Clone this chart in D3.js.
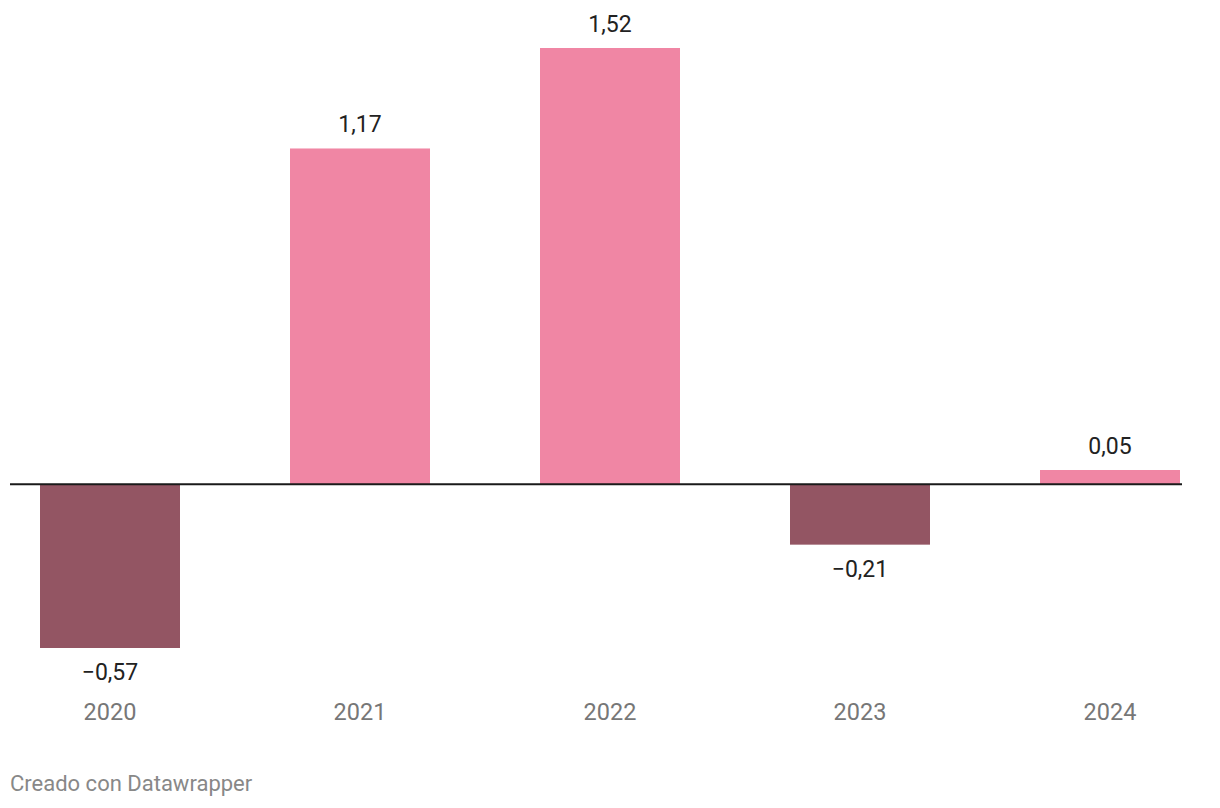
<!DOCTYPE html>
<html><head><meta charset="utf-8">
<script src="https://cdn.jsdelivr.net/npm/d3@7"></script>
<style>body{margin:0;background:#fff;} svg{display:block;font-family:Roboto,sans-serif;}</style>
</head><body>
<svg id="c" width="1220" height="808"></svg>
<script>
const years = ["2020","2021","2022","2023","2024"];
const values = [-0.57, 1.17, 1.52, -0.21, 0.05];
const footer = "Creado con Datawrapper";
const posColor = "#f086a4", negColor = "#935563";

const svg = d3.select("#c");
const x = d3.scaleBand().domain(years).range([40, 1180]).paddingInner(0.44).paddingOuter(0);
const y = d3.scaleLinear().domain([-0.57, 1.52]).range([648, 48]);
const fmt = v => (v < 0 ? "\u2212" : "") + Math.abs(v).toFixed(2).replace(".", ",");

svg.selectAll("rect.bar").data(years).join("rect")
  .attr("class","bar")
  .attr("x", d => x(d))
  .attr("width", x.bandwidth())
  .attr("y", (d,i) => Math.min(y(values[i]), y(0)))
  .attr("height", (d,i) => Math.abs(y(values[i]) - y(0)))
  .attr("fill", (d,i) => values[i] < 0 ? negColor : posColor);

svg.append("line").attr("x1",10).attr("x2",1182).attr("y1",y(0)).attr("y2",y(0))
  .attr("stroke","#1a1a1a").attr("stroke-width",2);

svg.selectAll("text.val").data(years).join("text")
  .attr("class","val")
  .attr("x", d => x(d) + x.bandwidth()/2)
  .attr("y", (d,i) => values[i] < 0 ? y(values[i]) + 32 : y(values[i]) - 16)
  .attr("text-anchor","middle").attr("font-size",23).attr("fill","#222")
  .text((d,i) => fmt(values[i]));

const xAxis = d3.axisBottom(x).tickSize(0).tickPadding(0);
const gx = svg.append("g").attr("transform","translate(0,720)").call(xAxis);
gx.select(".domain").remove();
gx.selectAll("text").attr("font-size",23.5).attr("fill","#777").attr("font-family","Roboto,sans-serif").attr("dy",0);

svg.append("text").attr("x",10).attr("y",791).attr("font-size",22).attr("fill","#888").text(footer);
</script>
</body></html>
